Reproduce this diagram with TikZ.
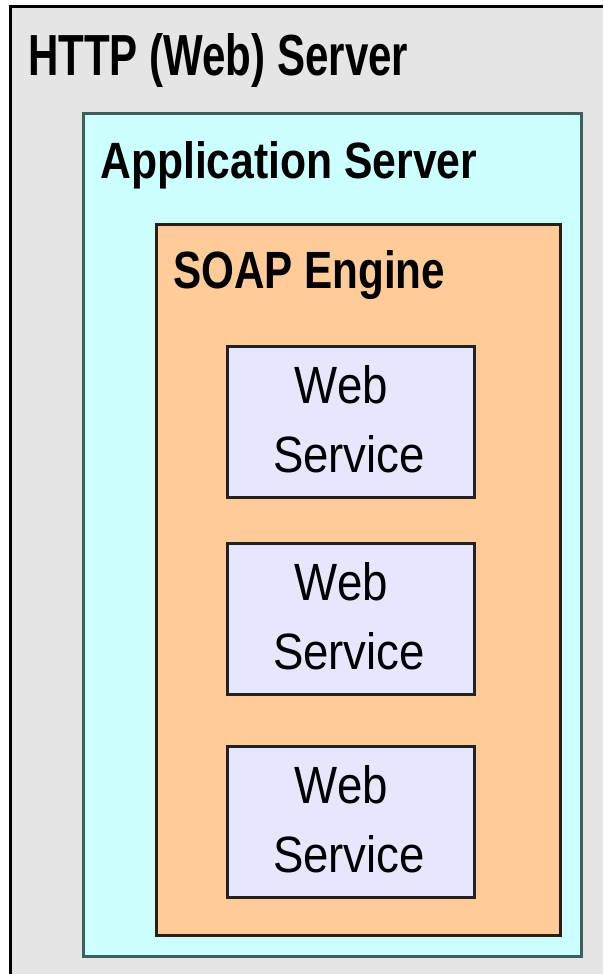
\documentclass[tikz,border=0pt]{standalone}
\usepackage{fontspec}
\setmainfont{Liberation Sans}
\usepackage{graphicx}
\definecolor{outerfill}{HTML}{E5E5E5}
\definecolor{appfill}{HTML}{CCFFFF}
\definecolor{appline}{HTML}{3F5F5F}
\definecolor{soapfill}{HTML}{FFCC99}
\definecolor{soapline}{HTML}{2A1E14}
\definecolor{wsfill}{HTML}{E6E6FF}
\definecolor{wsline}{HTML}{222222}
\tikzset{
  px/.style={x=1pt,y=-1pt},
  boxline/.style={line width=3pt},
  lbl/.style={inner sep=0pt, anchor=base west},
  wslbl/.style={inner sep=0pt, anchor=base},
}
\newcommand{\fitlbl}[3]{\resizebox{#1pt}{#2pt}{#3}}
\begin{document}
\begin{tikzpicture}[px]
\useasboundingbox (0,0) rectangle (603,974);
\fill[white] (0,0) rectangle (603,974);
% outer HTTP server box (cut at right and bottom)
\fill[outerfill] (10,6) rectangle (603,974);
\draw[line width=3pt, black] (10.5,974) -- (10.5,6.5) -- (603,6.5);
\node[lbl] (http) at (28,75) {\fitlbl{380}{42}{\bfseries HTTP (Web) Server}};
% application server
\draw[boxline, draw=appline, fill=appfill] (83.5,113.5) rectangle (581.5,956.5);
\node[lbl] (app) at (100,178) {\fitlbl{377}{37}{\bfseries Application Server}};
% SOAP engine
\draw[boxline, draw=soapline, fill=soapfill] (156.5,224.5) rectangle (560,935);
\node[lbl] (soap) at (173,288) {\fitlbl{272}{38}{\bfseries SOAP Engine}};
% web services
\foreach \t/\n in {345/1,542/2,745/3}{
  \draw[boxline, draw=wsline, fill=wsfill] (227.5,\t+1.5) rectangle (474.5,\t+152) coordinate (ws\n);
  \node[wslbl] (web\n) at (341.5,\t+58) {\fitlbl{93}{38}{Web}};
  \node[wslbl] (svc\n) at (349,\t+127) {\fitlbl{152}{37}{Service}};
}
\end{tikzpicture}
\end{document}
